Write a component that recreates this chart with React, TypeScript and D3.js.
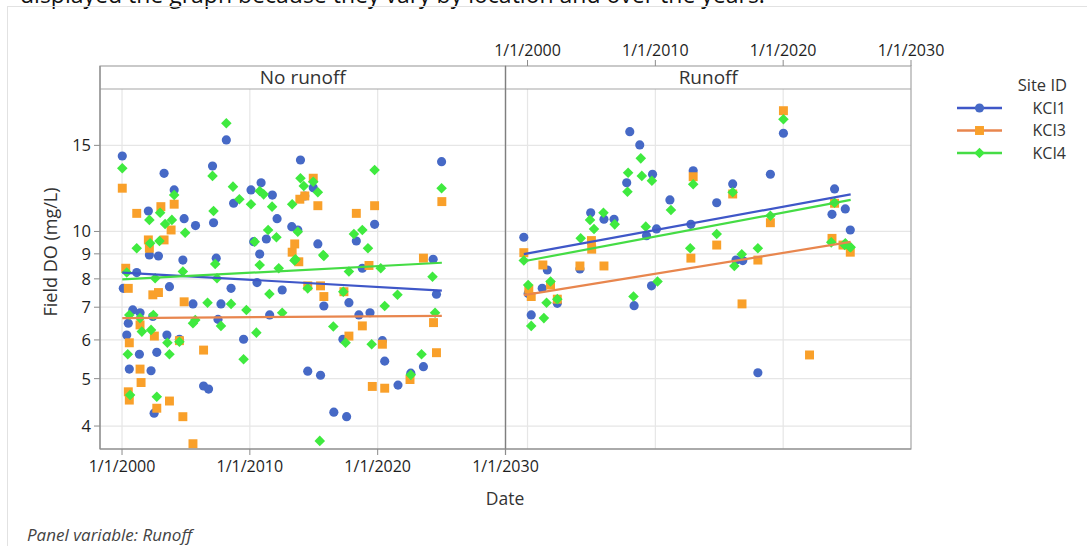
import React from 'react';
import * as d3 from 'd3';

// Series identifiers and panel names
const siteIds = ['KCI1', 'KCI3', 'KCI4'];
const panelNames = ['No runoff', 'Runoff'];

// Axis ticks
const yTicks = [4, 5, 6, 7, 8, 9, 10, 15];
const xTickYears = [2000, 2010, 2020, 2030];
const xTickLabels = ['1/1/2000', '1/1/2010', '1/1/2020', '1/1/2030'];

// Observations: [decimal year, field DO in mg/L]
const kci1NoRunoff: [number, number][] = [
  [2000.02, 14.27], [2003.29, 13.15], [2004.08, 12.16], [2002.06, 11.01], [2004.86, 10.62], [2005.75, 10.28],
  [2007.08, 13.61], [2007.16, 10.42], [2008.16, 15.39], [2008.73, 11.42], [2010.09, 12.16], [2010.88, 12.58],
  [2011.76, 11.87], [2012.13, 10.62], [2013.28, 10.23], [2013.75, 10.07], [2010.3, 9.53], [2010.77, 8.99],
  [2011.29, 9.65], [2013.96, 14.0], [2014.3, 11.82], [2015.32, 9.43], [2018.33, 9.56], [2019.76, 10.34],
  [2025.0, 13.89], [2024.34, 8.77], [2002.14, 8.95], [2002.85, 8.91], [2004.76, 8.74], [2007.37, 8.82],
  [2014.96, 12.29], [2000.1, 7.65], [2001.15, 8.24], [2000.84, 6.91], [2000.49, 6.49], [2000.37, 6.14],
  [2001.41, 6.82], [2001.36, 5.61], [2000.57, 5.23], [2002.27, 5.19], [2002.51, 4.25], [2002.72, 5.66],
  [2002.41, 6.7], [2003.71, 7.71], [2003.51, 6.14], [2004.49, 6.02], [2005.55, 7.11], [2006.38, 4.83],
  [2006.77, 4.76], [2007.51, 6.61], [2007.74, 7.11], [2008.53, 7.65], [2009.51, 6.02], [2010.56, 7.86],
  [2011.55, 6.75], [2012.53, 7.59], [2014.53, 5.18], [2015.53, 5.08], [2015.79, 7.04], [2016.57, 4.27],
  [2017.57, 4.18], [2017.28, 6.02], [2017.75, 7.15], [2018.53, 6.75], [2019.4, 6.82], [2018.8, 8.41],
  [2020.37, 5.98], [2020.55, 5.43], [2021.59, 4.85], [2022.59, 5.13], [2023.58, 5.29], [2024.6, 7.44],
];

const kci3NoRunoff: [number, number][] = [
  [2000.02, 12.26], [2001.15, 10.89], [2003.04, 11.24], [2004.08, 11.37], [2003.84, 10.07], [2002.06, 9.61],
  [2003.29, 9.61], [2002.14, 9.24], [2014.96, 12.85], [2013.91, 11.64], [2014.3, 11.82], [2015.32, 11.29],
  [2018.33, 10.89], [2019.76, 11.29], [2025.02, 11.51], [2013.51, 9.43], [2013.31, 9.07], [2023.58, 8.82],
  [2013.83, 8.67], [2019.32, 8.52], [2000.29, 8.41], [2000.49, 7.65], [2001.41, 6.44], [2000.57, 5.92],
  [2001.41, 5.23], [2001.49, 4.91], [2000.49, 4.7], [2000.57, 4.52], [2002.41, 7.42], [2002.85, 7.5],
  [2002.53, 6.11], [2002.72, 4.35], [2003.71, 4.5], [2004.76, 4.18], [2004.86, 7.18], [2004.49, 5.98],
  [2005.55, 3.68], [2006.38, 5.72], [2014.53, 7.74], [2015.53, 7.74], [2015.79, 7.36], [2017.36, 7.53],
  [2017.75, 6.11], [2018.8, 6.41], [2019.58, 4.82], [2020.37, 5.88], [2020.55, 4.78], [2022.53, 4.98],
  [2024.37, 6.51], [2024.6, 5.65],
];

const kci4NoRunoff: [number, number][] = [
  [2000.02, 13.47], [2002.14, 10.56], [2002.98, 10.92], [2004.08, 11.87], [2003.37, 10.36], [2003.9, 10.56],
  [2004.94, 9.94], [2001.15, 9.24], [2002.2, 9.46], [2002.93, 9.56], [2007.08, 12.99], [2007.16, 11.01],
  [2008.16, 16.65], [2008.68, 12.35], [2009.18, 11.64], [2010.09, 11.37], [2010.77, 12.1], [2011.08, 11.91],
  [2011.74, 11.24], [2011.43, 10.07], [2012.08, 9.73], [2010.38, 9.53], [2013.31, 11.37], [2013.75, 9.99],
  [2013.96, 12.85], [2014.22, 12.39], [2014.96, 12.64], [2015.32, 12.03], [2018.14, 9.88], [2018.8, 10.07],
  [2019.24, 9.24], [2019.76, 13.36], [2025.0, 12.26], [2015.74, 8.95], [2013.57, 8.77], [2000.37, 8.24],
  [2000.57, 6.75], [2001.41, 6.65], [2001.55, 6.24], [2000.45, 5.61], [2000.63, 4.63], [2002.59, 8.02],
  [2002.45, 6.75], [2002.27, 6.29], [2002.72, 4.59], [2003.55, 5.92], [2003.71, 5.61], [2004.49, 5.95],
  [2004.76, 8.28], [2005.55, 6.49], [2005.73, 6.59], [2006.69, 7.15], [2007.29, 8.58], [2007.43, 8.02],
  [2007.74, 6.41], [2008.53, 7.11], [2009.73, 6.91], [2009.51, 5.48], [2010.51, 6.21], [2010.77, 8.54],
  [2011.53, 7.45], [2012.26, 8.41], [2012.53, 6.82], [2013.49, 8.72], [2014.53, 7.65], [2015.79, 8.91],
  [2015.47, 3.73], [2016.53, 6.39], [2017.31, 7.53], [2017.49, 5.92], [2017.75, 8.28], [2019.53, 5.88],
  [2020.24, 8.41], [2020.55, 7.04], [2021.55, 7.42], [2022.59, 5.09], [2023.43, 5.61], [2024.29, 8.08],
  [2024.49, 6.82],
];

const kci1Runoff: [number, number][] = [
  [1999.71, 9.73], [2004.94, 10.92], [2005.98, 10.59], [2006.77, 10.59], [2008.0, 16.0], [2008.78, 15.03],
  [2007.76, 12.58], [2009.78, 13.09], [2009.31, 9.8], [2010.09, 10.12], [2011.14, 11.6], [2012.78, 10.34],
  [2012.96, 13.31], [2014.8, 11.45], [2016.05, 12.51], [2019.0, 13.09], [2020.02, 15.88], [2024.02, 12.22],
  [2023.82, 10.84], [2024.86, 11.12], [2025.25, 10.07], [2001.55, 8.34], [2004.1, 8.38], [2001.15, 7.65],
  [2000.05, 7.47], [2000.29, 6.75], [2002.33, 7.13], [2008.34, 7.05], [2009.7, 7.74], [2016.31, 8.74],
  [2016.84, 8.72], [2018.02, 5.14],
];

const kci3Runoff: [number, number][] = [
  [2005.0, 9.58], [2012.96, 12.94], [2016.05, 11.93], [2019.0, 10.42], [2020.02, 17.66], [2024.02, 11.42],
  [2023.82, 9.68], [2014.8, 9.38], [1999.71, 9.05], [2005.02, 9.2], [2001.2, 8.54], [2004.1, 8.5],
  [2005.98, 8.5], [2012.78, 8.82], [2000.29, 7.36], [2000.1, 7.62], [2001.8, 7.77], [2002.33, 7.27],
  [2016.78, 7.11], [2018.02, 8.74], [2022.06, 5.59], [2025.25, 9.07], [2024.68, 9.38],
];

const kci4Runoff: [number, number][] = [
  [2004.16, 9.68], [2004.89, 10.56], [2005.2, 10.12], [2005.94, 10.92], [2006.82, 10.34], [2007.87, 13.19],
  [2007.82, 12.06], [2008.86, 14.11], [2008.94, 12.99], [2009.73, 12.7], [2009.25, 10.23], [2011.22, 11.06],
  [2012.96, 12.49], [2014.8, 9.88], [2016.05, 12.03], [2019.0, 10.77], [2020.02, 16.96], [2024.02, 11.45],
  [2023.76, 9.5], [2024.86, 9.46], [2025.2, 9.31], [1999.71, 8.72], [2000.05, 7.77], [2001.8, 7.9],
  [2001.49, 7.15], [2002.33, 7.27], [2001.28, 6.65], [2000.29, 6.41], [2008.29, 7.36], [2010.17, 7.9],
  [2012.73, 9.24], [2016.18, 8.5], [2016.76, 8.98], [2018.02, 9.24], [2024.81, 9.38], [2025.28, 9.28],
];

// Fitted trend values at the first and last observation date of each panel
const trendNoRunoff = { KCI1: [8.24, 7.57], KCI3: [6.65, 6.72], KCI4: [7.98, 8.63] };
const trendRunoff = { KCI1: [8.99, 11.91], KCI3: [7.41, 9.52], KCI4: [8.69, 11.6] };

const headerText = 'displayed the graph because they vary by location and over the years.';

const FONT = '"Open Sans", "Noto Sans", sans-serif';
const W = 1087;
const H = 546;
const stripTop = 66;
const plotTop = 89;
const plotBottom = 449;
const panelRanges: [number, number][] = [[100, 505.5], [505.5, 911]];
const xDomain: [number, number] = [1998.277, 2030];

const markerColor: Record<string, string> = { KCI1: '#4669C6', KCI3: '#F9A02A', KCI4: '#3FEA3F' };
const lineColor: Record<string, string> = { KCI1: '#3F57C8', KCI3: '#E8864E', KCI4: '#45DC45' };

const panelData = [
  { name: panelNames[0], series: { KCI1: kci1NoRunoff, KCI3: kci3NoRunoff, KCI4: kci4NoRunoff }, trend: trendNoRunoff },
  { name: panelNames[1], series: { KCI1: kci1Runoff, KCI3: kci3Runoff, KCI4: kci4Runoff }, trend: trendRunoff },
];

const circlePath = d3.symbol().type(d3.symbolCircle).size(66)()!;
const squarePath = d3.symbol().type(d3.symbolSquare).size(80)()!;
const diamondPath = d3.symbol().type(d3.symbolSquare).size(56)()!;

function Marker({ id, x, y }: { id: string; x: number; y: number }) {
  const c = markerColor[id];
  if (id === 'KCI1') return <path d={circlePath} transform={`translate(${x},${y})`} fill={c} />;
  if (id === 'KCI3') return <path d={squarePath} transform={`translate(${x},${y})`} fill={c} />;
  return <path d={diamondPath} transform={`translate(${x},${y}) rotate(45)`} fill={c} />;
}

export default function App() {
  const y = d3.scaleLog().domain([3.59, 19.56]).range([plotBottom, plotTop]);
  const xScales = panelRanges.map((r) => d3.scaleLinear().domain(xDomain).range(r));
  const gridColor = '#e6e6e6';
  const frameColor = '#a6a6a6';
  const textColor = '#333333';
  const tickText = '#1e1e1e';

  return (
    <div style={{ position: 'absolute', left: 0, top: 0 }}>
      <svg width={W} height={H} style={{ display: 'block', background: '#fff' }}>
        <text x={20} y={2.5} fontFamily={FONT} fontSize={23} fill="#111">{headerText}</text>
        {/* outer frame */}
        <line x1={7} y1={6.5} x2={W} y2={6.5} stroke="#e2e2e2" />
        <line x1={7.5} y1={6} x2={7.5} y2={H} stroke="#e2e2e2" />

        {panelData.map((p, pi) => {
          const x = xScales[pi];
          const [x0, x1] = panelRanges[pi];
          return (
            <g key={p.name}>
              {yTicks.map((t) => (
                <line key={'h' + t} x1={x0} x2={x1} y1={y(t)} y2={y(t)} stroke={gridColor} strokeWidth={1.2} />
              ))}
              {xTickYears.slice(0, 3).map((t) => (
                <line key={'v' + t} x1={x(t)} x2={x(t)} y1={plotTop} y2={plotBottom} stroke={gridColor} strokeWidth={1.2} />
              ))}
              {/* strip */}
              <rect x={x0} y={stripTop} width={x1 - x0} height={plotBottom - stripTop} fill="none" stroke={frameColor} strokeWidth={1.2} />
              <line x1={x0} x2={x1} y1={plotTop} y2={plotTop} stroke={frameColor} strokeWidth={1.2} />
              <text x={(x0 + x1) / 2} y={plotTop - 5} textAnchor="middle" fontFamily={FONT} fontSize={19} fill={textColor}>{p.name}</text>
              {/* points */}
              {siteIds.map((id) => (
                <g key={id}>
                  {(p.series as any)[id].map((d: [number, number], i: number) => (
                    <Marker key={i} id={id} x={x(d[0])} y={y(d[1])} />
                  ))}
                </g>
              ))}
              {/* trend lines */}
              {siteIds.map((id) => {
                const all = siteIds.flatMap((s) => (p.series as any)[s].map((d: [number, number]) => d[0]));
                const ext = d3.extent(all) as [number, number];
                const tv = (p.trend as any)[id];
                const line = d3.line<[number, number]>().x((d) => x(d[0])).y((d) => y(d[1]));
                return <path key={'t' + id} d={line([[ext[0], tv[0]], [ext[1], tv[1]]])!} stroke={lineColor[id]} strokeWidth={2.2} fill="none" />;
              })}
            </g>
          );
        })}

        {/* panel divider */}
        <line x1={505.5} x2={505.5} y1={stripTop} y2={plotBottom + 6} stroke="#7f7f7f" strokeWidth={1.2} />

        {/* y axis */}
        <line x1={100} x2={100} y1={stripTop} y2={plotBottom} stroke="#8c8c8c" strokeWidth={1.2} />
        {yTicks.map((t) => (
          <g key={t}>
            <line x1={94} x2={100} y1={y(t)} y2={y(t)} stroke="#8c8c8c" />
            <text x={91} y={y(t)} dy="0.36em" textAnchor="end" fontFamily={FONT} fontSize={16.5} fontWeight={500} fill={tickText}>{t}</text>
          </g>
        ))}
        <text transform={`translate(51,252) rotate(-90)`} textAnchor="middle" dy="0.35em" fontFamily={FONT} fontSize={18} fill={textColor}>Field DO (mg/L)</text>

        {/* bottom axis on the first panel */}
        <line x1={100} x2={911} y1={plotBottom} y2={plotBottom} stroke="#8c8c8c" strokeWidth={1.2} />
        {xTickYears.map((t, i) => (
          <g key={'b' + t}>
            <line x1={xScales[0](t)} x2={xScales[0](t)} y1={plotBottom} y2={plotBottom + 6} stroke="#8c8c8c" />
            <text x={xScales[0](t)} y={plotBottom + 23} textAnchor="middle" fontFamily={FONT} fontSize={16} fontWeight={500} fill={tickText}>{xTickLabels[i]}</text>
          </g>
        ))}
        {/* top axis on the second panel */}
        {xTickYears.map((t, i) => (
          <g key={'t' + t}>
            <line x1={xScales[1](t)} x2={xScales[1](t)} y1={stripTop} y2={stripTop - 6} stroke="#8c8c8c" />
            <text x={xScales[1](t)} y={stripTop - 10} textAnchor="middle" fontFamily={FONT} fontSize={16} fontWeight={500} fill={tickText}>{xTickLabels[i]}</text>
          </g>
        ))}
        <text x={505} y={505} textAnchor="middle" fontFamily={FONT} fontSize={17.5} fill={textColor}>Date</text>

        {/* legend */}
        <text x={1067} y={91} textAnchor="end" fontFamily={FONT} fontSize={16.5} fill={textColor}>Site ID</text>
        {siteIds.map((id, i) => {
          const ly = 108 + i * 22.5;
          return (
            <g key={'l' + id}>
              <line x1={957} x2={1002} y1={ly} y2={ly} stroke={lineColor[id]} strokeWidth={2.4} />
              <Marker id={id} x={979.5} y={ly} />
              <text x={1066} y={ly} dy="0.36em" textAnchor="end" fontFamily={FONT} fontSize={16} fill={textColor}>{id}</text>
            </g>
          );
        })}

        <text x={27} y={541} fontFamily={FONT} fontStyle="italic" fontSize={17} fill="#444">Panel variable: Runoff</text>
      </svg>
    </div>
  );
}
